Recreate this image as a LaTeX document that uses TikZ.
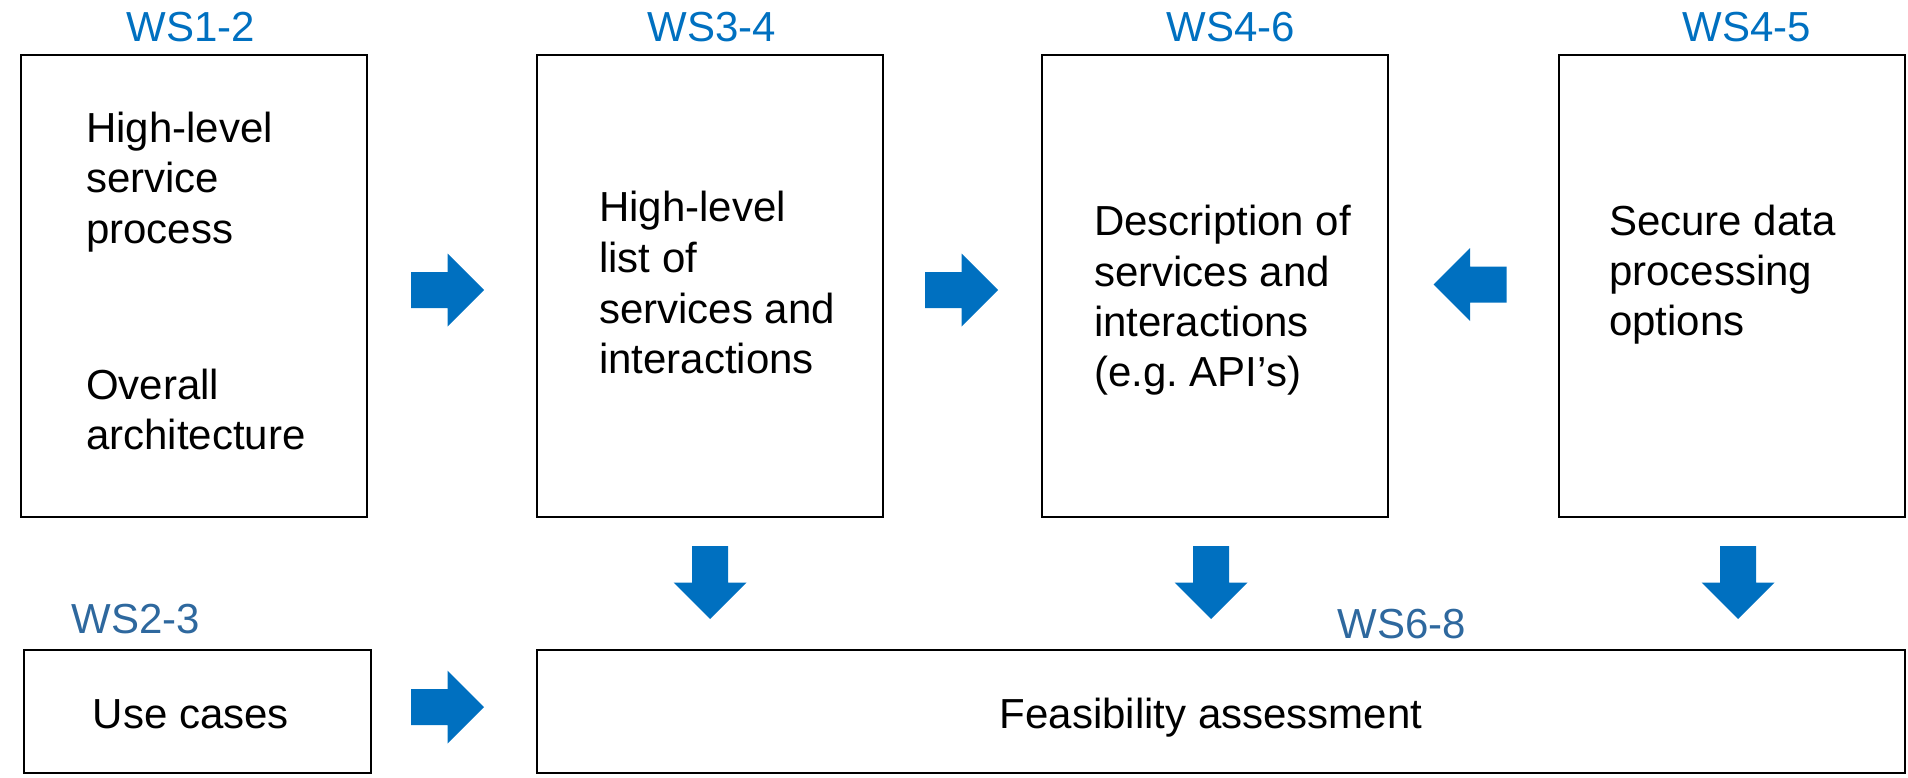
\documentclass[tikz,border=0pt]{standalone}
\usepackage{fontspec}
\setmainfont{Liberation Sans}
\frenchspacing
\definecolor{wsblue}{RGB}{0,112,192}
\definecolor{wsdark}{RGB}{46,104,158}
\begin{document}
\begin{tikzpicture}[x=1pt,y=-1pt,
  box/.style={draw=black, line width=2.2pt, inner sep=0pt},
  txt/.style={anchor=base west, inner sep=0pt, font=\fontsize{42}{50}\selectfont},
  ctxt/.style={anchor=base, inner sep=0pt, font=\fontsize{42}{50}\selectfont},
  wslbl/.style={anchor=base, inner sep=0pt, text=wsblue, font=\fontsize{42}{50}\selectfont},
  wsdlbl/.style={anchor=base, inner sep=0pt, text=wsdark, font=\fontsize{42}{50}\selectfont},
  blockarrow/.pic={\fill[wsblue] (-36.5,-18) -- (0,-18) -- (0,-36.5) -- (36.5,0) -- (0,36.5) -- (0,18) -- (-36.5,18) -- cycle;}
]
\useasboundingbox (0,0) rectangle (1908,778);

% boxes
\node[box, minimum width=346pt, minimum height=462pt] (b1) at (194,286) {};
\node[box, minimum width=346pt, minimum height=462pt] (b2) at (710,286) {};
\node[box, minimum width=346pt, minimum height=462pt] (b3) at (1215,286) {};
\node[box, minimum width=346pt, minimum height=462pt] (b4) at (1732,286) {};
\node[box, minimum width=347pt, minimum height=123pt] (uc) at (197.5,711.5) {};
\node[box, minimum width=1368pt, minimum height=123pt] (fa) at (1221,711.5) {};

% labels
\node[wslbl] (l1) at (191,42) {WS1-2};
\node[wslbl] (l2) at (712,42) {WS3-4};
\node[wslbl] (l3) at (1231,42) {WS4-6};
\node[wslbl] (l4) at (1747,42) {WS4-5};
\node[wsdlbl] (l5) at (136,633) {WS2-3};
\node[wsdlbl] (l6) at (1402,638) {WS6-8};

% box 1 text
\node[txt] (t1a) at (86,143) {High-level};
\node[txt] (t1b) at (86,193) {service};
\node[txt] (t1c) at (86,243) {process};
\node[txt] (t1d) at (86,399) {Overall};
\node[txt] (t1e) at (86,449) {architecture};
% box 2 text
\node[txt] (t2a) at (599,222) {High-level};
\node[txt] (t2b) at (599,272) {list of};
\node[txt] (t2c) at (599,323) {services and};
\node[txt] (t2d) at (599,373) {interactions};
% box 3 text
\node[txt] (t3a) at (1094,236) {Description of};
\node[txt] (t3b) at (1094,286) {services and};
\node[txt] (t3c) at (1094,336) {interactions};
\node[txt] (t3d) at (1094,386) {(e.g.\ API’s)};
% box 4 text
\node[txt] (t4a) at (1609,235) {Secure data};
\node[txt] (t4b) at (1609,285) {processing};
\node[txt] (t4c) at (1609,335) {options};
% bottom texts
\node[ctxt] (t5) at (191,728) {Use cases};
\node[ctxt] (t6) at (1211,728) {Feasibility assessment};

% block arrows
\pic at (447.5,290) {blockarrow};
\pic at (961.5,290) {blockarrow};
\pic[rotate=180] at (1470,284.5) {blockarrow};
\pic[rotate=-90] at (710,582.5) {blockarrow};
\pic[rotate=-90] at (1211,582.5) {blockarrow};
\pic[rotate=-90] at (1738,582.5) {blockarrow};
\pic at (447.5,707) {blockarrow};
\end{tikzpicture}
\end{document}
